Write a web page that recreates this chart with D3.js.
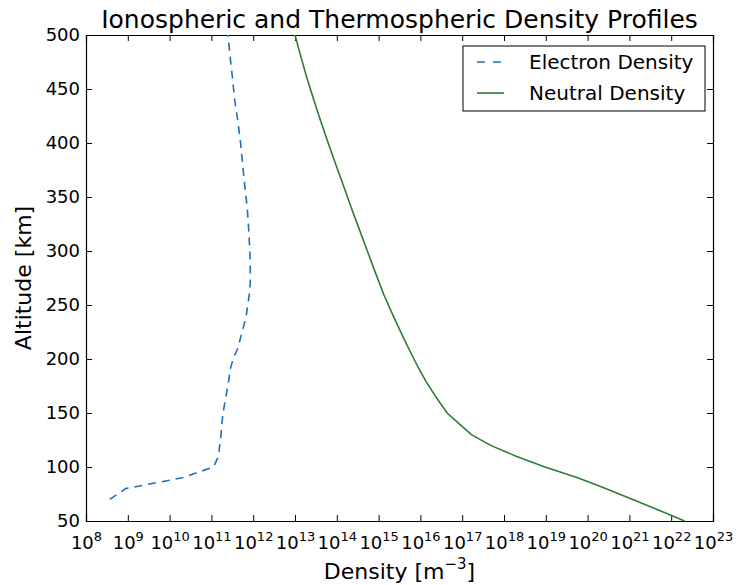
<!DOCTYPE html>
<html>
<head>
<meta charset="utf-8">
<script src="https://cdn.jsdelivr.net/npm/d3@7"></script>
<style>
  body { margin: 0; background: #fff; }
  svg text { font-family: 'DejaVu Sans', sans-serif; fill: #000; }
</style>
</head>
<body>
<div class="chart"></div>
<script>
const width = 749;
const height = 585;
const margin = { top: 35, right: 36, bottom: 64, left: 86 };

// electron density profile (m^-3) vs altitude (km)
const electronAlt = [70, 80, 90, 100, 110, 120, 130, 140, 150, 160, 170, 180, 190, 200,
    210, 220, 230, 240, 250, 260, 270, 280, 290, 300, 320, 340, 360, 380, 400, 420, 440, 460, 480, 500];
const electronDensity = [3.7e8, 8.9e8, 2.0e10, 1.12e11, 1.48e11, 1.58e11, 1.7e11, 1.78e11, 1.9e11,
    2.1e11, 2.35e11, 2.6e11, 2.8e11, 3.3e11, 4.3e11, 5.0e11, 5.9e11, 6.8e11, 7.4e11, 8.1e11, 8.5e11,
    8.5e11, 8.5e11, 8.3e11, 7.8e11, 7.2e11, 6.3e11, 5.6e11, 5.0e11, 4.3e11, 3.6e11, 3.2e11, 2.8e11, 2.5e11];

// neutral density profile
const neutralAlt = [50, 60, 70, 80, 90, 100, 110, 120, 130, 140, 150, 160, 170, 180, 190, 200,
    220, 240, 260, 280, 300, 320, 340, 360, 380, 400, 420, 440, 460, 480, 500];
const neutralDensity = [2.1e22, 5.1e21, 1.2e21, 2.7e20, 5.8e19, 9.5e18, 1.95e18, 4.8e17, 1.66e17,
    8.5e16, 4.37e16, 2.88e16, 1.93e16, 1.33e16, 9.55e15, 7.0e15, 3.89e15, 2.24e15, 1.32e15, 8.38e14,
    5.38e14, 3.46e14, 2.22e14, 1.46e14, 9.46e13, 6.22e13, 4.15e13, 2.81e13, 1.94e13, 1.38e13, 1.0e13];

const xExponents = [8, 9, 10, 11, 12, 13, 14, 15, 16, 17, 18, 19, 20, 21, 22, 23];
const yTicks = [50, 100, 150, 200, 250, 300, 350, 400, 450, 500];

const svg = d3.select('.chart').append('svg')
    .attr('width', width)
    .attr('height', height);

const x = d3.scaleLog().domain([1e8, 1e23]).range([margin.left, width - margin.right]);
const y = d3.scaleLinear().domain([50, 500]).range([height - margin.bottom, margin.top]);

/* axes, ticks inside on all four sides */
const xVals = xExponents.map(e => Math.pow(10, e));
const bottom = svg.append('g')
    .attr('transform', `translate(0, ${y(50)})`)
    .call(d3.axisBottom(x).tickValues(xVals).tickSize(-6).tickFormat(''));
svg.append('g')
    .attr('transform', `translate(0, ${y(500)})`)
    .call(d3.axisTop(x).tickValues(xVals).tickSize(-6).tickFormat(''));
const left = svg.append('g')
    .attr('transform', `translate(${x(1e8)}, 0)`)
    .call(d3.axisLeft(y).tickValues(yTicks).tickSize(-6).tickPadding(6));
svg.append('g')
    .attr('transform', `translate(${x(1e23)}, 0)`)
    .call(d3.axisRight(y).tickValues(yTicks).tickSize(-6).tickFormat(''));
svg.selectAll('.domain').attr('stroke', '#000').attr('stroke-width', 1.2);
svg.selectAll('.tick line').attr('stroke', '#000').attr('stroke-width', 1);
left.selectAll('.tick text').style('font-size', '18px').style('font-family', 'DejaVu Sans')
    .attr('fill', '#000');

// log tick labels with superscript exponent
bottom.selectAll('.tick').each(function (d) {
    const t = d3.select(this).append('text')
        .attr('y', 28)
        .attr('text-anchor', 'middle')
        .style('font-size', '18px')
        .style('font-family', 'DejaVu Sans')
        .attr('fill', '#000');
    t.append('tspan').text('10');
    t.append('tspan').attr('dy', -8).style('font-size', '13px').text(Math.round(Math.log10(d)));
});

/* lines */
const line = d3.line().x(d => x(d[0])).y(d => y(d[1]));
svg.append('path')
    .datum(electronDensity.map((v, i) => [v, electronAlt[i]]))
    .attr('d', line)
    .attr('fill', 'none')
    .attr('stroke', '#1f6fc0')
    .attr('stroke-width', 1.6)
    .attr('stroke-dasharray', '8,6');
svg.append('path')
    .datum(neutralDensity.map((v, i) => [v, neutralAlt[i]]))
    .attr('d', line)
    .attr('fill', 'none')
    .attr('stroke', '#2f7d32')
    .attr('stroke-width', 1.6);

/* labels */
svg.append('text')
    .attr('x', (x(1e8) + x(1e23)) / 2)
    .attr('y', 28)
    .attr('text-anchor', 'middle')
    .style('font-size', '25px')
    .text('Ionospheric and Thermospheric Density Profiles');
const xl = svg.append('text')
    .attr('x', (x(1e8) + x(1e23)) / 2)
    .attr('y', 579)
    .attr('text-anchor', 'middle')
    .style('font-size', '22px');
xl.append('tspan').text('Density [m');
xl.append('tspan').attr('dy', -10).style('font-size', '15px').text('\u22123');
xl.append('tspan').attr('dy', 10).text(']');
svg.append('text')
    .attr('transform', `translate(31, ${(y(50) + y(500)) / 2}) rotate(-90)`)
    .attr('text-anchor', 'middle')
    .style('font-size', '22px')
    .text('Altitude [km]');

/* legend */
const lg = svg.append('g');
lg.append('rect')
    .attr('x', 463).attr('y', 46).attr('width', 242).attr('height', 65)
    .attr('fill', '#fff').attr('stroke', '#000').attr('stroke-width', 1);
const items = [
    { name: 'Electron Density', color: '#1f6fc0', dash: '8,8' },
    { name: 'Neutral Density', color: '#2f7d32', dash: null }
];
items.forEach((it, i) => {
    const cy = 62 + i * 31;
    lg.append('line')
        .attr('x1', 477).attr('x2', 504).attr('y1', cy).attr('y2', cy)
        .attr('stroke', it.color).attr('stroke-width', 1.6)
        .attr('stroke-dasharray', it.dash);
    lg.append('text')
        .attr('x', 529).attr('y', cy + 7)
        .style('font-size', '20px')
        .text(it.name);
});
</script>
</body>
</html>
